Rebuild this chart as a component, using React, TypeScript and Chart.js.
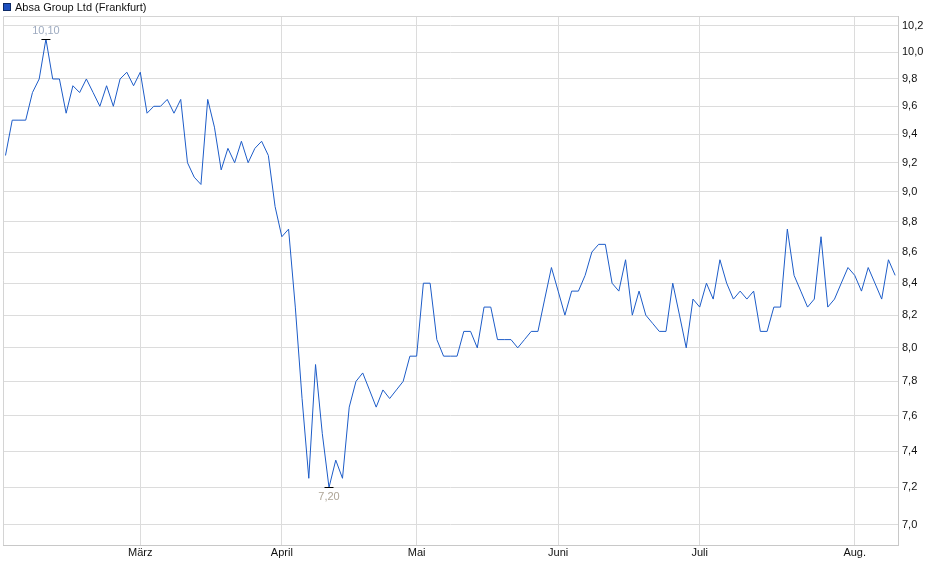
import { useEffect, useRef } from "react";
import { Chart, registerables } from "chart.js";

Chart.register(...registerables);

const seriesName = "Absa Group Ltd (Frankfurt)";

// Frankfurt trading days 2025, day numbers per month
const tradingDays: [number, number[]][] = [
  [2, [3, 4, 5, 6, 7, 10, 11, 12, 13, 14, 17, 18, 19, 20, 21, 24, 25, 26, 27, 28]],
  [3, [3, 4, 5, 6, 7, 10, 11, 12, 13, 14, 17, 18, 19, 20, 21, 24, 25, 26, 27, 28, 31]],
  [4, [1, 2, 3, 4, 7, 8, 9, 10, 11, 14, 15, 16, 17, 22, 23, 24, 25, 28, 29, 30]],
  [5, [2, 5, 6, 7, 8, 9, 12, 13, 14, 15, 16, 19, 20, 21, 22, 23, 26, 27, 28, 29, 30]],
  [6, [2, 3, 4, 5, 6, 9, 10, 11, 12, 13, 16, 17, 18, 19, 20, 23, 24, 25, 26, 27, 30]],
  [7, [1, 2, 3, 4, 7, 8, 9, 10, 11, 14, 15, 16, 17, 18, 21, 22, 23, 24, 25, 28, 29, 30, 31]],
  [8, [1, 4, 5, 6, 7, 8, 11]],
];

const monthNames: Record<number, string> = {
  3: "März",
  4: "April",
  5: "Mai",
  6: "Juni",
  7: "Juli",
  8: "Aug.",
};

// closing prices in EUR, one per trading day
const febCloses = [9.25, 9.5, 9.5, 9.5, 9.7, 9.8, 10.1, 9.8, 9.8, 9.55, 9.75, 9.7, 9.8, 9.7, 9.6, 9.75, 9.6, 9.8, 9.85, 9.75];
const marCloses = [9.85, 9.55, 9.6, 9.6, 9.65, 9.55, 9.65, 9.2, 9.1, 9.05, 9.65, 9.45, 9.15, 9.3, 9.2, 9.35, 9.2, 9.3, 9.35, 9.25, 8.9];
const aprCloses = [8.7, 8.75, 8.25, 7.7, 7.25, 7.9, 7.5, 7.2, 7.35, 7.25, 7.65, 7.8, 7.85, 7.75, 7.65, 7.75, 7.7, 7.75, 7.8, 7.95];
const mayCloses = [7.95, 8.4, 8.4, 8.05, 7.95, 7.95, 7.95, 8.1, 8.1, 8.0, 8.25, 8.25, 8.05, 8.05, 8.05, 8.0, 8.05, 8.1, 8.1, 8.3, 8.5];
const junCloses = [8.35, 8.2, 8.35, 8.35, 8.45, 8.6, 8.65, 8.65, 8.4, 8.35, 8.55, 8.2, 8.35, 8.2, 8.15, 8.1, 8.1, 8.4, 8.2, 8.0, 8.3];
const julCloses = [8.25, 8.4, 8.3, 8.55, 8.4, 8.3, 8.35, 8.3, 8.35, 8.1, 8.1, 8.25, 8.25, 8.75, 8.45, 8.35, 8.25, 8.3, 8.7, 8.25, 8.3, 8.4, 8.5];
const augCloses = [8.45, 8.35, 8.5, 8.4, 8.3, 8.55, 8.45];

const yTicks = [7.0, 7.2, 7.4, 7.6, 7.8, 8.0, 8.2, 8.4, 8.6, 8.8, 9.0, 9.2, 9.4, 9.6, 9.8, 10.0, 10.2];

const closes = [...febCloses, ...marCloses, ...aprCloses, ...mayCloses, ...junCloses, ...julCloses, ...augCloses];

const days = tradingDays.flatMap(([m, ds]) => ds.map((d) => ({ m, d })));
const monthStarts: number[] = [];
days.forEach((day, i) => {
  if (i > 0 && days[i - 1].m !== day.m) monthStarts.push(i);
});

const comma = (v: number, digits: number) => v.toFixed(digits).replace(".", ",");

const font = "'Liberation Sans', Arial, sans-serif";

const framePlugin = {
  id: "frame",
  beforeDatasetsDraw(chart: any) {
    const { ctx, chartArea } = chart;
    ctx.save();
    ctx.strokeStyle = "#d4d4d4";
    ctx.lineWidth = 1;
    ctx.beginPath();
    ctx.moveTo(chartArea.left + 0.5, chartArea.bottom);
    ctx.lineTo(chartArea.left + 0.5, chartArea.top + 0.5);
    ctx.lineTo(chartArea.right, chartArea.top + 0.5);
    ctx.stroke();
    ctx.restore();
  },
};

const legendPlugin = {
  id: "miniLegend",
  afterDraw(chart: any) {
    const { ctx } = chart;
    ctx.save();
    ctx.fillStyle = "#1d4fbf";
    ctx.fillRect(3, 3, 8, 8);
    ctx.strokeStyle = "#0d2a66";
    ctx.lineWidth = 1;
    ctx.strokeRect(3.5, 3.5, 7, 7);
    ctx.fillStyle = "#111";
    ctx.font = `11px ${font}`;
    ctx.textBaseline = "alphabetic";
    ctx.textAlign = "left";
    ctx.fillText(seriesName, 15, 10.5);
    ctx.restore();
  },
};

const extremaPlugin = {
  id: "extrema",
  afterDatasetsDraw(chart: any) {
    const { ctx } = chart;
    const xs = chart.scales.x;
    const ys = chart.scales.y;
    const hi = closes.indexOf(Math.max(...closes));
    const lo = closes.indexOf(Math.min(...closes));
    ctx.save();
    ctx.font = `11px ${font}`;
    ctx.textAlign = "center";
    const mark = (i: number, above: boolean) => {
      const x = xs.getPixelForValue(i);
      const y = Math.round(ys.getPixelForValue(closes[i])) + 0.5;
      ctx.strokeStyle = "#000";
      ctx.lineWidth = 1;
      ctx.beginPath();
      ctx.moveTo(x - 4.5, y);
      ctx.lineTo(x + 4.5, y);
      ctx.stroke();
      ctx.fillStyle = above ? "#9eabc0" : "#aea596";
      ctx.textBaseline = above ? "bottom" : "top";
      ctx.fillText(comma(closes[i], 2), x, above ? y - 3 : y + 4);
    };
    mark(hi, true);
    mark(lo, false);
    ctx.restore();
  },
};

function PriceChart() {
  const canvasRef = useRef<HTMLCanvasElement | null>(null);
  const chartRef = useRef<Chart | null>(null);

  useEffect(() => {
    if (!canvasRef.current) {
      return;
    }
    if (chartRef.current) {
      chartRef.current.destroy();
    }

    chartRef.current = new Chart(canvasRef.current, {
      type: "line",
      data: {
        datasets: [
          {
            label: seriesName,
            data: closes.map((v, i) => ({ x: i, y: v })),
            borderColor: "#1d5cc8",
            borderWidth: 1,
            pointRadius: 0,
            tension: 0,
            fill: false,
          },
        ],
      },
      options: {
        animation: false,
        responsive: true,
        maintainAspectRatio: false,
        layout: { padding: { top: 16, left: 3, right: 0, bottom: 0 } },
        plugins: {
          legend: { display: false },
          tooltip: { enabled: false },
        },
        scales: {
          x: {
            type: "linear",
            min: -0.37,
            max: 132.42,
            afterBuildTicks: (scale: any) => {
              scale.ticks = monthStarts.map((i) => ({ value: i }));
            },
            afterFit: (scale: any) => {
              scale.height = 34;
            },
            ticks: {
              autoSkip: false,
              maxRotation: 0,
              padding: 1,
              color: "#111",
              font: { family: font, size: 11 },
              callback: (value: any) => monthNames[days[value as number].m],
            },
            grid: { color: "#dcdcdc", drawTicks: false },
            border: { color: "#c8c8c8" },
          },
          y: {
            type: "logarithmic",
            position: "right",
            min: 6.894,
            max: 10.277,
            bounds: "data",
            afterBuildTicks: (scale: any) => {
              scale.ticks = yTicks.map((v) => ({ value: v }));
            },
            afterFit: (scale: any) => {
              scale.width = 42;
            },
            ticks: {
              autoSkip: false,
              padding: 4,
              color: "#111",
              font: { family: font, size: 11 },
              callback: (value: any) => comma(Number(value), 1),
            },
            grid: { color: "#dcdcdc", drawTicks: false },
            border: { color: "#c8c8c8" },
          },
        },
      },
      plugins: [framePlugin, legendPlugin, extremaPlugin],
    } as any);

    return () => {
      chartRef.current?.destroy();
      chartRef.current = null;
    };
  }, []);

  return <canvas ref={canvasRef} />;
}

export default function App() {
  return (
    <div style={{ position: "absolute", left: 0, top: 0, width: 940, height: 579, background: "#fff" }}>
      <PriceChart />
    </div>
  );
}
